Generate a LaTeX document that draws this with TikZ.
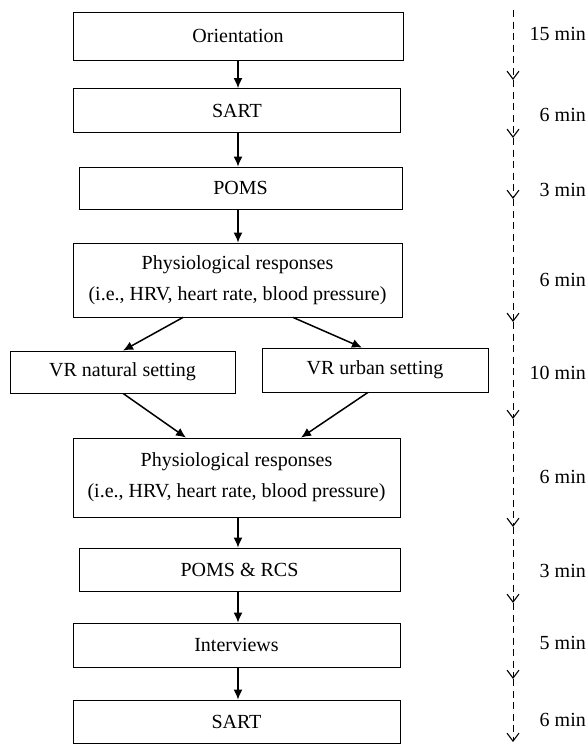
\documentclass[tikz,border=0pt]{standalone}
\usepackage{fontspec}
\setmainfont{Liberation Serif}
\usetikzlibrary{arrows.meta}
\begin{document}
\begin{tikzpicture}[x=1pt,y=-1pt,
  box/.style={draw,line width=0.8pt,rectangle,inner sep=0pt,align=center,font=\fontsize{20}{31}\selectfont},
  flow/.style={line width=1.5pt,-{Latex[length=10pt,width=9pt]}},
  timeline/.style={line width=1pt,dash pattern=on 7pt off 4.5pt,-{Straight Barb[length=8pt,width=12pt,line width=1.1pt]}},
  tlabel/.style={anchor=east,font=\fontsize{20}{24}\selectfont,inner sep=0pt}]
\useasboundingbox (0,0) rectangle (587,744);
\node[box,minimum width=330pt,minimum height=48pt] (ori) at (238,36) {Orientation};
\node[box,minimum width=327pt,minimum height=44pt] (sart1) at (237,110.5) {SART};
\node[box,minimum width=323pt,minimum height=42pt] (poms) at (240.5,188) {POMS};
\node[box,minimum width=329pt,minimum height=74pt] (phys1) at (237.5,280) {Physiological responses\\(i.e., HRV, heart rate, blood pressure)};
\node[box,minimum width=225pt,minimum height=42pt] (vrn) at (122.5,372) {VR natural setting};
\node[box,minimum width=226pt,minimum height=44pt] (vru) at (375,370) {VR urban setting};
\node[box,minimum width=327pt,minimum height=79pt] (phys2) at (236.5,477.5) {Physiological responses\\(i.e., HRV, heart rate, blood pressure)};
\node[box,minimum width=321pt,minimum height=43pt] (pr) at (239.5,569.5) {POMS \& RCS};
\node[box,minimum width=327pt,minimum height=44pt] (intv) at (236.5,645) {Interviews};
\node[box,minimum width=327pt,minimum height=43pt] (sart2) at (236.5,721.5) {SART};
% arrow anchors
\coordinate (ax) at (238,0);
\coordinate (d1) at (183,0);
\coordinate (d2) at (293,0);
\coordinate (d3) at (123,0);
\coordinate (d4) at (362,0);
\coordinate (d5) at (186,0);
\coordinate (d6) at (368,0);
\coordinate (d7) at (301,0);
\draw[flow] (ori.south -| ax) -- (sart1.north -| ax);
\draw[flow] (sart1.south -| ax) -- (poms.north -| ax);
\draw[flow] (poms.south -| ax) -- (phys1.north -| ax);
\draw[flow] (phys1.south -| d1) -- (vrn.north -| d3);
\draw[flow] (phys1.south -| d2) -- (vru.north -| d4);
\draw[flow] (vrn.south -| d3) -- (phys2.north -| d5);
\draw[flow] (vru.south -| d6) -- (phys2.north -| d7);
\draw[flow] (phys2.south -| ax) -- (pr.north -| ax);
\draw[flow] (pr.south -| ax) -- (intv.north -| ax);
\draw[flow] (intv.south -| ax) -- (sart2.north -| ax);
% timeline
\coordinate (t0) at (513,10);
\coordinate (t1) at (513,80);
\coordinate (t2) at (513,138);
\coordinate (t3) at (513,199);
\coordinate (t4) at (513,322);
\coordinate (t5) at (513,419);
\coordinate (t6) at (513,527);
\coordinate (t7) at (513,603);
\coordinate (t8) at (513,679);
\coordinate (t9) at (513,742);
\draw[timeline] (t0) -- (t1);
\draw[timeline] (t1) -- (t2);
\draw[timeline] (t2) -- (t3);
\draw[timeline] (t3) -- (t4);
\draw[timeline] (t4) -- (t5);
\draw[timeline] (t5) -- (t6);
\draw[timeline] (t6) -- (t7);
\draw[timeline] (t7) -- (t8);
\draw[timeline] (t8) -- (t9);
\node[tlabel] (l1) at (586,34) {15 min};
\node[tlabel] (l2) at (586,115) {6 min};
\node[tlabel] (l3) at (586,190) {3 min};
\node[tlabel] (l4) at (586,280) {6 min};
\node[tlabel] (l5) at (586,373) {10 min};
\node[tlabel] (l6) at (586,477) {6 min};
\node[tlabel] (l7) at (586,571) {3 min};
\node[tlabel] (l8) at (586,643) {5 min};
\node[tlabel] (l9) at (586,720) {6 min};
\end{tikzpicture}
\end{document}
